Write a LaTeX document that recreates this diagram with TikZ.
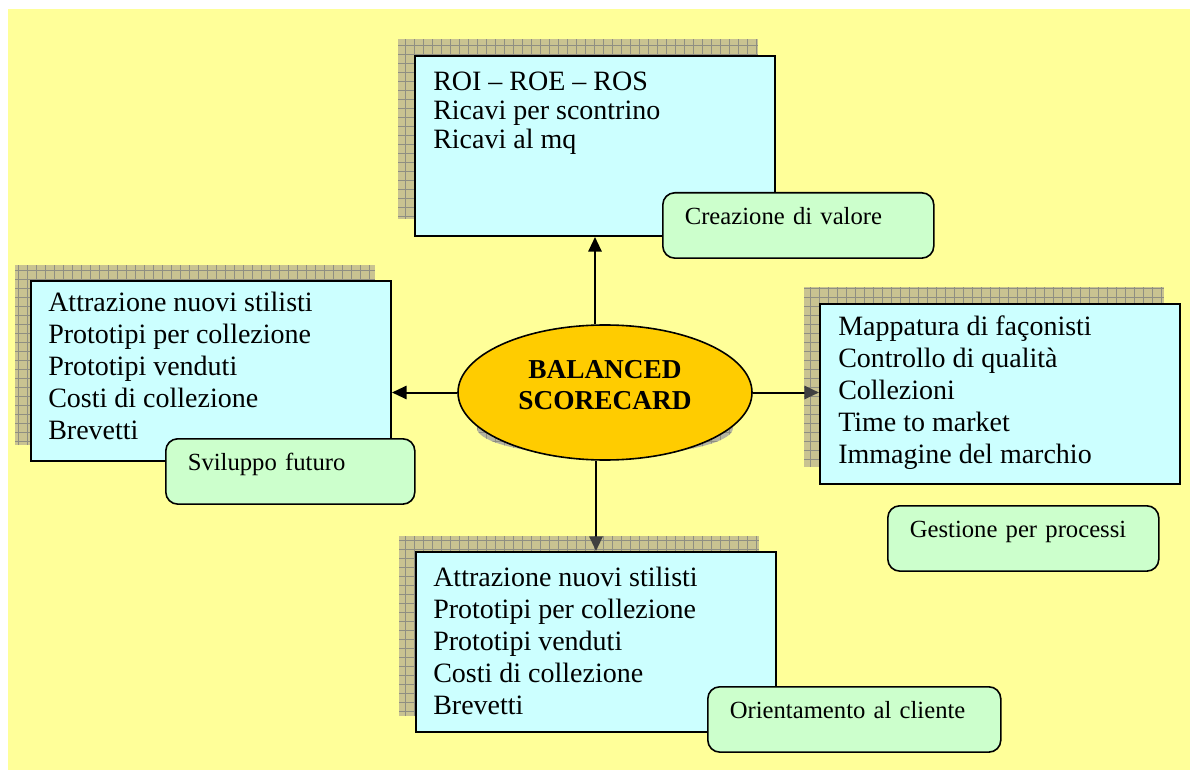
\documentclass[tikz,border=0pt]{standalone}
\usepackage{fontspec}
\setmainfont{Liberation Serif}
\usetikzlibrary{arrows.meta,shapes.geometric}
\definecolor{bgyellow}{HTML}{FFFF99}
\definecolor{boxcyan}{HTML}{CCFFFF}
\definecolor{labgreen}{HTML}{CCFFCC}
\definecolor{ellorange}{HTML}{FFCC00}
\definecolor{shadefill}{HTML}{C9C391}
\definecolor{shadegrid}{HTML}{8F8F82}
\definecolor{ellshade}{HTML}{B4B4A0}
\definecolor{tipgray}{HTML}{404040}
\begin{document}
\begin{tikzpicture}[x=0.75pt,y=-0.75pt,
  cyanbox/.style={draw=black, line width=1.5pt, fill=boxcyan, rectangle, inner sep=0pt,
    minimum width=270pt, minimum height=135pt, anchor=north west},
  boxtext/.style={anchor=north west, inner sep=0pt, align=left,
    font=\fontsize{21}{24}\selectfont},
  labelbox/.style={draw=black, line width=1.2pt, fill=labgreen, rounded corners=9pt,
    anchor=north west, inner xsep=16.5pt, inner ysep=0pt, text height=24pt,
    text depth=25pt, align=left, font=\fontsize{18.5}{20}\selectfont},
  shadowfill/.style={fill=shadefill},
  shadowgrid/.style={draw=shadegrid, line width=0.5pt},
  arr/.style={line width=1.5pt, -{Triangle[length=11pt,width=10pt]}},
  arrgray/.style={line width=1.5pt, -{Triangle[length=11pt,width=10pt,color=tipgray]}}
]
\useasboundingbox (0,0) rectangle (1190,770);
% background
\fill[bgyellow] (8,9) rectangle (1190,770);

% shadows of the boxes
\fill[shadowfill] (398,39) rectangle (758,219);
\draw[shadowgrid, step=6.75pt] (398,39) grid (758,219);
\fill[shadowfill] (15,265) rectangle (375,445);
\draw[shadowgrid, step=6.75pt] (15,265) grid (375,445);
\fill[shadowfill] (804,287) rectangle (1164,467);
\draw[shadowgrid, step=6.75pt] (804,287) grid (1164,467);
\fill[shadowfill] (399,536) rectangle (759,716);
\draw[shadowgrid, step=6.75pt] (399,536) grid (759,716);

% boxes
\node[cyanbox] (topbox) at (414,55) {};
\node[cyanbox] (leftbox) at (30,280) {};
\node[cyanbox] (rightbox) at (819,303) {};
\node[cyanbox] (botbox) at (415,551) {};

% ellipse shadow and ellipse
\begin{scope}
  \clip (605,428) ellipse [x radius=96pt, y radius=21pt];
  \fill[ellshade] (470,395) rectangle (740,460);
  \draw[shadowgrid, step=6.75pt] (470,395) grid (740,460);
\end{scope}
\node[ellipse, draw=black, line width=1.2pt, fill=ellorange, minimum width=220.5pt,
  minimum height=101.25pt, inner sep=0pt] (sc) at (605,392.5) {};
\node[font=\bfseries\fontsize{20.5}{23}\selectfont, align=center] (sct) at (605,385)
  {BALANCED\\SCORECARD};

% connectors
\draw[arr] (sc.north -| topbox.south) -- (topbox.south);
\draw[arr] (sc.west) -- (sc.west -| leftbox.east);
\draw[arrgray] (sc.east) -- (sc.east -| rightbox.west);
\draw[arrgray] (sc.south -| botbox.north) -- (botbox.north);

% texts in boxes
\node[boxtext, font=\fontsize{21}{21.75}\selectfont] (toptext) at (433,72)
  {ROI – ROE – ROS\\Ricavi per scontrino\\Ricavi al mq};
\node[boxtext] (lefttext) at (48,292)
  {Attrazione nuovi stilisti\\Prototipi per collezione\\Prototipi venduti\\Costi di collezione\\Brevetti};
\node[boxtext] (righttext) at (838,316)
  {Mappatura di façonisti\\Controllo di qualità\\Collezioni\\Time to market\\Immagine del marchio};
\node[boxtext] (bottext) at (433,567)
  {Attrazione nuovi stilisti\\Prototipi per collezione\\Prototipi venduti\\Costi di collezione\\Brevetti};

% green labels
\node[labelbox, text width=170.25pt] (lab1) at (662,192) {Creazione di valore};
\node[labelbox, text width=153.75pt] (lab2) at (165,438) {Sviluppo futuro};
\node[labelbox, text width=170.25pt] (lab3) at (887,505) {Gestione per processi};
\node[labelbox, text width=186.75pt] (lab4) at (707,686) {Orientamento al cliente};
\end{tikzpicture}
\end{document}
